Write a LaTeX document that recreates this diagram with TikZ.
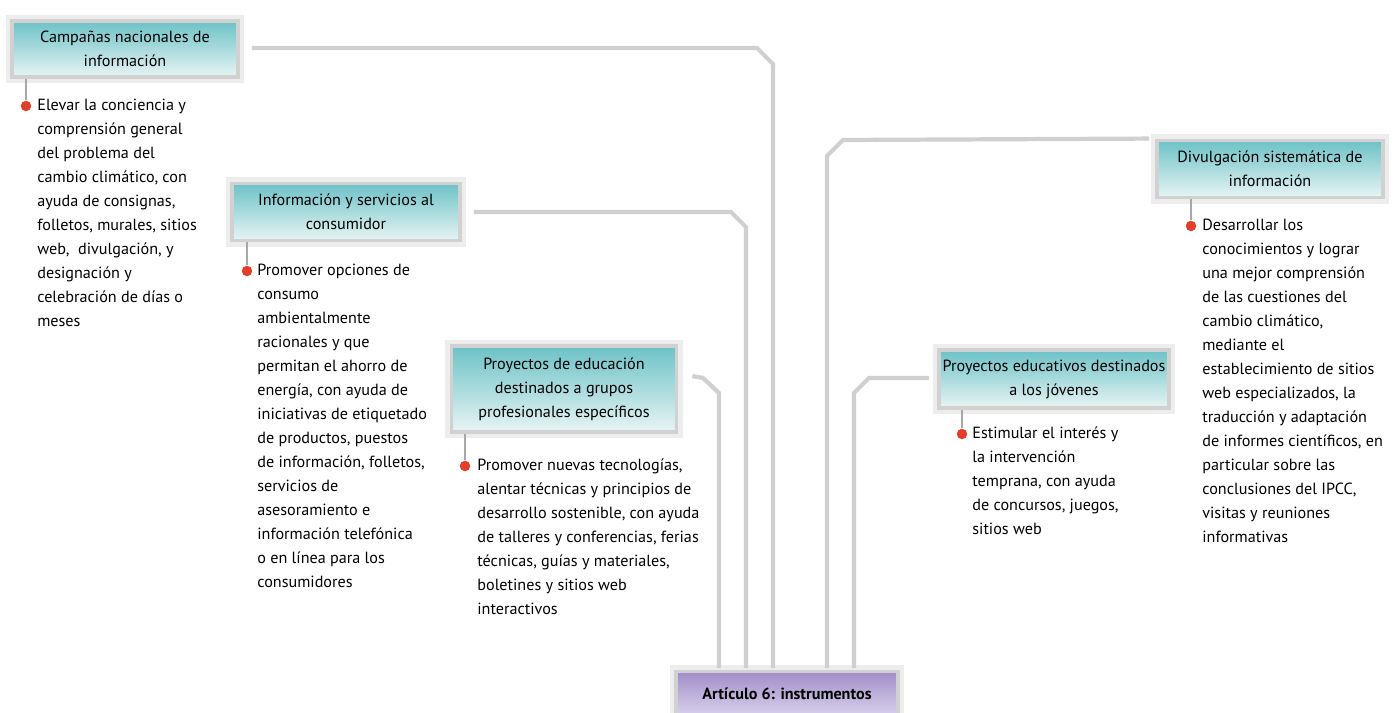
\documentclass[tikz,border=0pt]{standalone}
\usepackage{fontspec}
\setmainfont{PT Sans}
\definecolor{boxteal}{RGB}{108,194,199}
\definecolor{boxtealpale}{RGB}{232,244,244}
\definecolor{boxlilac}{RGB}{160,142,200}
\definecolor{boxlilacpale}{RGB}{218,210,236}
\definecolor{linkgray}{RGB}{208,208,208}
\definecolor{dotred}{RGB}{226,62,40}
\usetikzlibrary{positioning,calc}
\newcommand{\diagfont}{\fontsize{9.2}{13.66}\selectfont}

\begin{document}
\begin{tikzpicture}[x=0.02cm,y=-0.02cm,
  head/.style={draw=black!18,line width=2.2pt,preaction={draw=black!7,line width=7pt},
    top color=boxteal,bottom color=boxtealpale,align=center,font=\diagfont,
    inner sep=2pt},
  link/.style={linkgray,line width=2.4pt},
  stem/.style={linkgray!80!black,line width=0.8pt},
  dot/.style={circle,fill=dotred,inner sep=0pt,minimum size=0.21cm},
  note/.style={anchor=north west,align=left,font=\diagfont,inner sep=0pt}]
  \useasboundingbox (0,0) rectangle (1399,713);
  % Headings
  \node[head,minimum width=4.52cm,minimum height=1.12cm] (camp) at (125,49) {Campañas nacionales de\\información};
  \node[head,minimum width=4.56cm,minimum height=1.14cm] (info) at (346,212) {Información y servicios al\\consumidor};
  \node[head,minimum width=4.50cm,minimum height=1.72cm] (proy) at (564,389) {Proyectos de educación\\destinados a grupos\\profesionales específicos};
  \node[head,minimum width=4.52cm,minimum height=1.14cm] (divul) at (1270,169) {Divulgación sistemática de\\información};
  \node[head,minimum width=4.56cm,minimum height=1.16cm] (jov) at (1054,379) {Proyectos educativos destinados\\a los jóvenes};
  \node[head,top color=boxlilac,bottom color=boxlilacpale,minimum width=4.44cm,minimum height=0.9cm,font=\diagfont\bfseries] (art) at (787,694) {Artículo 6: instrumentos};
  % Ends of the links
  \coordinate (e1) at (773,668);
  \coordinate (e2) at (746,668);
  \coordinate (e3) at (719,668);
  \coordinate (e4) at (827,668);
  \coordinate (e5) at (854,668);
  % Links to the instruments
  \draw[link] ($(camp.east)+(12,-1)$) -- (757,48) -- (773,64) -- (e1);
  \draw[link] ($(info.east)+(12,0)$) -- (731,212) -- (746,227) -- (e2);
  \draw[link] ($(proy.north east)+(14,32)$) -- (703,378) -- (719,393) -- (e3);
  \draw[link] ($(divul.north west)+(-6,0)$) -- (843,140) -- (827,156) -- (e4);
  \draw[link] ($(jov.west)+(-8,-1)$) -- (869,378) -- (854,393) -- (e5);
  % Notes
  \node[dot] (d1) at (26,106) {};
  \draw[stem] (camp.south -| d1) -- (d1);
  \node[note] (t1) at (37,99) {Elevar la conciencia y\\comprensión general\\del problema del\\cambio climático, con\\ayuda de consignas,\\folletos, murales, sitios\\web,\ \ divulgación, y\\designación y\\celebración de días o\\meses};
  \node[dot] (d2) at (247,271) {};
  \draw[stem] (info.south -| d2) -- (d2);
  \node[note] (t2) at (257,264) {Promover opciones de\\consumo\\ambientalmente\\racionales y que\\permitan el ahorro de\\energía, con ayuda de\\iniciativas de etiquetado\\de productos, puestos\\de información, folletos,\\servicios de\\asesoramiento e\\información telefónica\\o en línea para los\\consumidores};
  \node[dot] (d3) at (465,466) {};
  \draw[stem] (proy.south -| d3) -- (d3);
  \node[note] (t3) at (477,459) {Promover nuevas tecnologías,\\alentar técnicas y principios de\\desarrollo sostenible, con ayuda\\de talleres y conferencias, ferias\\técnicas, guías y materiales,\\boletines y sitios web\\interactivos};
  \node[dot] (d5) at (962,434) {};
  \draw[stem] (jov.south -| d5) -- (d5);
  \node[note] (t5) at (972,427) {Estimular el interés y\\la intervención\\temprana, con ayuda\\de concursos, juegos,\\sitios web};
  \node[dot] (d4) at (1191,226) {};
  \draw[stem] (divul.south -| d4) -- (d4);
  \node[note] (t4) at (1202,219) {Desarrollar los\\conocimientos y lograr\\una mejor comprensión\\de las cuestiones del\\cambio climático,\\mediante el\\establecimiento de sitios\\web especializados, la\\traducción y adaptación\\de informes científicos, en\\particular sobre las\\conclusiones del IPCC,\\visitas y reuniones\\informativas};
\end{tikzpicture}
\end{document}
